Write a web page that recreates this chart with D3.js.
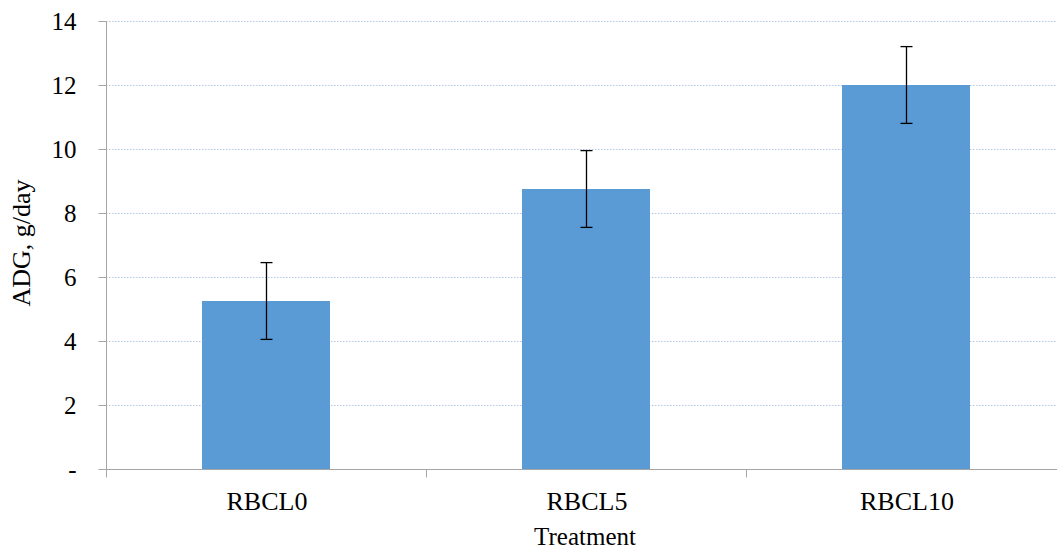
<!DOCTYPE html>
<html>
<head>
<meta charset="utf-8">
<script src="https://cdn.jsdelivr.net/npm/d3@7/dist/d3.min.js"></script>
<style>
  body { margin: 0; background: #fff; }
  svg text { font-family: "Liberation Serif", "Times New Roman", serif; fill: #000; }
</style>
</head>
<body>
<svg id="chart" width="1057" height="551"></svg>
<script>
// Average daily gain by treatment, with error bars
const categories = ["RBCL0", "RBCL5", "RBCL10"];
const adgValues = [5.25, 8.75, 12.0];
const adgErrors = [1.2, 1.2, 1.2];
const yTickValues = [0, 2, 4, 6, 8, 10, 12, 14];

const svg = d3.select("#chart");
const margin = { left: 106, right: -9, top: 21, bottom: 82 };
const W = 1057, H = 551;
const plotW = W - margin.left - margin.right;
const plotH = H - margin.top - margin.bottom;

const x = d3.scaleBand().domain(categories).range([margin.left, margin.left + plotW]).paddingInner(0.6).paddingOuter(0.3);
const xOuter = d3.scaleBand().domain(categories).range([margin.left, margin.left + plotW]);
const y = d3.scaleLinear().domain([0, 14]).range([margin.top + plotH, margin.top]);

// horizontal gridlines
svg.append("g").selectAll("line").data(yTickValues.filter(v => v > 0)).join("line")
  .attr("x1", margin.left).attr("x2", W)
  .attr("y1", d => y(d) + 0.5).attr("y2", d => y(d) + 0.5)
  .attr("stroke", "#b4c7e7").attr("stroke-width", 1).attr("stroke-dasharray", "1.5,1.5");

// bars
svg.append("g").selectAll("rect").data(categories).join("rect")
  .attr("x", d => x(d)).attr("width", x.bandwidth())
  .attr("y", (d, i) => y(adgValues[i]))
  .attr("height", (d, i) => y(0) - y(adgValues[i]))
  .attr("fill", "#5b9bd5");

// error bars
const eb = svg.append("g").attr("stroke", "#000").attr("stroke-width", 1.3);
categories.forEach((c, i) => {
  const cx = Math.round(x(c) + x.bandwidth() / 2) + 0.5;
  const top = y(adgValues[i] + adgErrors[i]);
  const bot = y(adgValues[i] - adgErrors[i]);
  eb.append("line").attr("x1", cx).attr("x2", cx).attr("y1", top).attr("y2", bot);
  eb.append("line").attr("x1", cx - 6).attr("x2", cx + 6).attr("y1", top).attr("y2", top);
  eb.append("line").attr("x1", cx - 6).attr("x2", cx + 6).attr("y1", bot).attr("y2", bot);
});

// y axis
const yAxis = svg.append("g").attr("transform", `translate(${margin.left + 0.5},0)`)
  .call(d3.axisLeft(y).tickValues(yTickValues).tickSize(8).tickPadding(22)
    .tickFormat(d => d === 0 ? "-" : d));
yAxis.select(".domain").attr("stroke", "#a6a6a6").attr("d", `M0,${y(14)}V${y(0)}`);
yAxis.selectAll(".tick line").attr("stroke", "#a6a6a6");
yAxis.selectAll(".tick text").attr("font-size", 25).style("font-family", "Liberation Serif").attr("dy", "0.33em");

// x axis
const xAxisG = svg.append("g").attr("transform", `translate(0,${y(0) + 0.5})`);
xAxisG.append("line").attr("x1", margin.left).attr("x2", W).attr("stroke", "#a6a6a6");
const boundaries = [margin.left, ...categories.slice(1).map(c => xOuter(c))];
xAxisG.selectAll("line.tk").data(boundaries).join("line").attr("class", "tk")
  .attr("x1", d => Math.round(d) + 0.5).attr("x2", d => Math.round(d) + 0.5)
  .attr("y1", 0).attr("y2", 8).attr("stroke", "#a6a6a6");
xAxisG.selectAll("text").data(categories).join("text")
  .attr("x", d => xOuter(d) + xOuter.bandwidth() / 2 + 1)
  .attr("y", 40.5).attr("text-anchor", "middle").attr("font-size", 26).text(d => d);

// axis titles
svg.append("text").attr("x", 585).attr("y", 545)
  .attr("text-anchor", "middle").attr("font-size", 25).text("Treatment");
svg.append("text").attr("transform", `translate(30,${y(7) - 2}) rotate(-90)`)
  .attr("text-anchor", "middle").attr("font-size", 26).text("ADG, g/day");
</script>
</body>
</html>
